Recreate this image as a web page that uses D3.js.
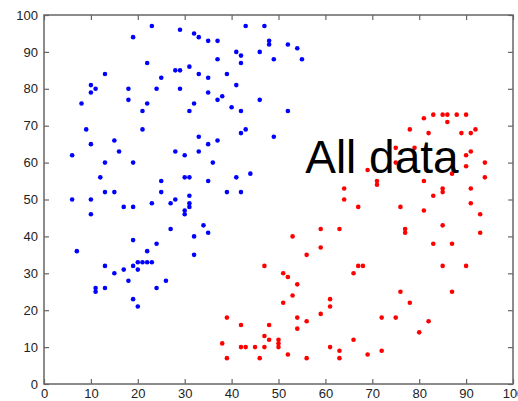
<!DOCTYPE html>
<html>
<head>
<meta charset="utf-8">
<script src="https://cdn.jsdelivr.net/npm/d3@7"></script>
<style>
  body { margin: 0; background: #fff; }
  svg { display: block; }
</style>
</head>
<body>
<div id="chart"></div>
<script>
// Cluster 1 (blue)
var blueX = [8, 9, 10, 10, 11, 13, 15, 18, 18, 19, 21, 21, 22, 22, 23, 24, 25, 28, 29, 29, 29,
  32, 33, 35, 37, 43, 47, 48, 48, 52, 54, 41, 42, 46, 37, 42, 49, 55, 31, 33, 39, 35, 41, 35,
  38, 37, 46, 32, 31, 40, 42, 52, 43, 42, 33, 37, 49,
  6, 10, 16, 28, 13, 19, 12, 25, 13, 15, 25, 6, 10, 17, 19, 23, 27, 28, 10, 27, 19, 24, 7,
  22, 13, 17, 19, 20, 20, 21, 22, 23,
  15, 11, 11, 13, 18, 24, 26, 19, 20,
  35, 30, 33, 36, 44, 30, 31, 41, 35, 39, 42, 31, 31, 31, 30, 30, 34, 35, 32, 32];
var blueY = [76, 69, 81, 79, 80, 84, 66, 80, 77, 94, 74, 69, 87, 76, 97, 80, 83, 85, 85, 96, 80,
  95, 94, 93, 93, 97, 97, 93, 92, 92, 91, 90, 89, 90, 88, 87, 88, 88, 86, 84, 84, 83, 81, 79,
  78, 77, 77, 76, 74, 75, 74, 74, 69, 68, 67, 66, 67,
  62, 65, 63, 63, 60, 60, 56, 55, 52, 52, 52, 50, 50, 48, 48, 49, 49, 50, 46, 42, 39, 38, 36,
  36, 32, 31, 32, 33, 31, 33, 33, 33,
  30, 26, 25, 26, 28, 26, 28, 23, 21,
  65, 62, 63, 60, 57, 56, 56, 56, 55, 52, 52, 51, 49, 48, 47, 46, 43, 41, 40, 35];

// Cluster 2 (red)
var redX = [59, 53, 59, 56, 47, 63,
  51, 52, 54, 53, 51, 61, 61, 59, 54, 56, 54, 39, 42, 48, 47, 48, 50, 50, 50, 38, 42, 43, 45,
  47, 39, 46, 52, 56, 61, 63, 63, 66, 66, 67,
  68, 85, 90, 76, 87, 78, 72, 75, 82, 80, 72, 69,
  81, 83, 85, 86, 88, 90, 86, 78, 82, 89, 91, 92, 75, 79, 90, 91, 75, 94, 90, 69, 87, 94,
  71, 71, 81, 85, 85, 91, 64, 64, 83, 91, 67, 76, 81, 93, 85, 77, 77, 93, 83, 87];
var redY = [42, 40, 37, 35, 32, 42,
  30, 29, 27, 24, 22, 23, 21, 19, 18, 17, 15, 18, 16, 16, 13, 12, 12, 11, 10, 11, 10, 10, 10,
  10, 7, 7, 8, 7, 10, 9, 7, 12, 30, 32,
  32, 32, 32, 25, 25, 22, 18, 18, 17, 14, 9, 8,
  72, 73, 73, 73, 73, 73, 71, 69, 68, 68, 68, 69, 64, 64, 62, 63, 60, 60, 59, 58, 57, 56,
  55, 54, 55, 53, 52, 53, 53, 50, 51, 49, 48, 48, 47, 46, 43, 42, 41, 41, 38, 38];

var xTicks = [0, 10, 20, 30, 40, 50, 60, 70, 80, 90, 100];
var yTicks = [0, 10, 20, 30, 40, 50, 60, 70, 80, 90, 100];

var svgWidth = 518;
var svgHeight = 401;
var margin = { top: 15, right: 5, bottom: 17, left: 44 };
var chartWidth = svgWidth - margin.left - margin.right;
var chartHeight = svgHeight - margin.top - margin.bottom;

var svg = d3.select("#chart")
  .append("svg")
  .attr("width", svgWidth)
  .attr("height", svgHeight);

var chartGroup = svg.append("g")
  .attr("transform", `translate(${margin.left}, ${margin.top})`);

var xScale = d3.scaleLinear().domain([0, 100]).range([0, chartWidth]);
var yScale = d3.scaleLinear().domain([0, 100]).range([chartHeight, 0]);

// axes, ticks pointing inwards like matlab
function styleAxis(g) {
  g.select(".domain").remove();
  g.selectAll(".tick line").attr("stroke", "#666").attr("stroke-width", 1.2);
  g.selectAll("text")
    .attr("fill", "#222")
    .style("font-family", "'Liberation Sans', Arial, sans-serif")
    .style("font-size", "13px");
}

chartGroup.append("g")
  .attr("transform", `translate(0, ${chartHeight})`)
  .call(d3.axisBottom(xScale).tickValues(xTicks).tickSizeInner(-5).tickSizeOuter(0).tickPadding(4.5))
  .call(styleAxis);

chartGroup.append("g")
  .call(d3.axisLeft(yScale).tickValues(yTicks).tickSizeInner(-5).tickSizeOuter(0).tickPadding(6))
  .call(styleAxis);

chartGroup.append("g")
  .call(d3.axisTop(xScale).tickValues(xTicks).tickSizeInner(-5).tickSizeOuter(0).tickFormat(""))
  .call(styleAxis);

chartGroup.append("g")
  .attr("transform", `translate(${chartWidth}, 0)`)
  .call(d3.axisRight(yScale).tickValues(yTicks).tickSizeInner(-5).tickSizeOuter(0).tickFormat(""))
  .call(styleAxis);

// box
chartGroup.append("rect")
  .attr("width", chartWidth)
  .attr("height", chartHeight)
  .attr("fill", "none")
  .attr("stroke", "#666")
  .attr("stroke-width", 1.5);

// points
chartGroup.selectAll(".blue")
  .data(d3.range(blueX.length))
  .enter()
  .append("circle")
  .attr("class", "blue")
  .attr("cx", i => xScale(blueX[i]))
  .attr("cy", i => yScale(blueY[i]))
  .attr("r", 2.3)
  .attr("fill", "#0000ff");

chartGroup.selectAll(".red")
  .data(d3.range(redX.length))
  .enter()
  .append("circle")
  .attr("class", "red")
  .attr("cx", i => xScale(redX[i]))
  .attr("cy", i => yScale(redY[i]))
  .attr("r", 2.3)
  .attr("fill", "#ff0000");

// big label
chartGroup.append("text")
  .attr("x", xScale(55.7))
  .attr("y", yScale(57.2))
  .attr("fill", "#000")
  .style("font-family", "'Liberation Sans', Arial, sans-serif")
  .style("font-size", "46px")
  .text("All data");
</script>
</body>
</html>
